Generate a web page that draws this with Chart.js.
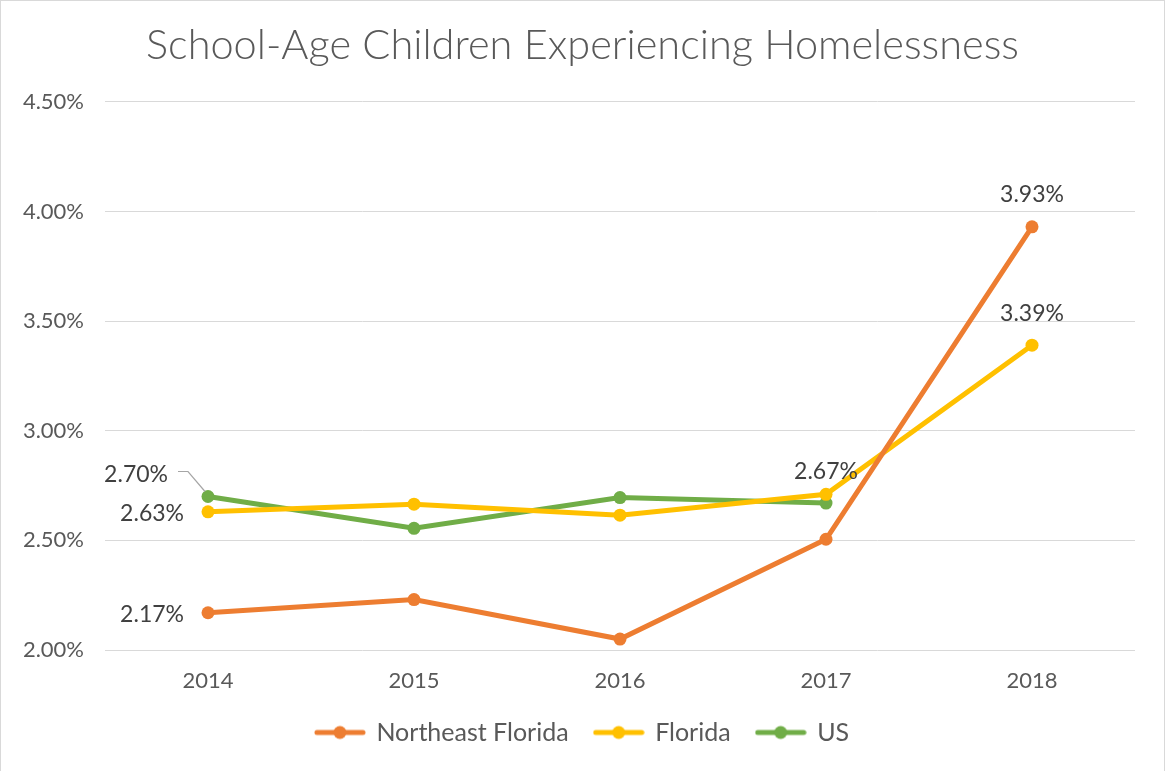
<!DOCTYPE html>
<html>
<head>
<meta charset="utf-8">
<script src="https://cdn.jsdelivr.net/npm/chart.js@4/dist/chart.umd.min.js"></script>
<style>
  html, body { margin: 0; padding: 0; background: #fff; }
  #wrap { width: 1165px; height: 771px; position: relative; box-sizing: border-box;
          border: 1px solid #d9d9d9; border-bottom: none; }
</style>
</head>
<body>
<div id="wrap"><canvas id="homelessChart"></canvas></div>
<script>
const years = ['2014', '2015', '2016', '2017', '2018'];
const neFlorida = [2.17, 2.23, 2.05, 2.505, 3.93];
const florida = [2.63, 2.665, 2.615, 2.71, 3.39];
const us = [2.70, 2.555, 2.695, 2.67, null];
const yTicks = [2.0, 2.5, 3.0, 3.5, 4.0, 4.5];

// which points carry a value label: [datasetIndex, pointIndex, side]
const labelPoints = [
    [2, 0, 'leader'],
    [1, 0, 'left'],
    [0, 0, 'left'],
    [2, 3, 'above'],
    [0, 4, 'above'],
    [1, 4, 'above']
];

const FONT = 'Lato, "Open Sans", sans-serif';

function legendIcon(color) {
    const c = document.createElement('canvas');
    c.width = 52; c.height = 16;
    const g = c.getContext('2d');
    g.strokeStyle = color;
    g.lineWidth = 5;
    g.lineCap = 'round';
    g.beginPath(); g.moveTo(3, 8); g.lineTo(49, 8); g.stroke();
    g.fillStyle = color;
    g.beginPath(); g.arc(26, 8, 6.5, 0, Math.PI * 2); g.fill();
    return c;
}

const valueLabels = {
    id: 'valueLabels',
    afterDatasetsDraw(chart) {
        const ctx = chart.ctx;
        ctx.save();
        ctx.font = '23px ' + FONT;
        ctx.fillStyle = '#404040';
        labelPoints.forEach(([di, pi, side]) => {
            const pt = chart.getDatasetMeta(di).data[pi];
            const v = chart.data.datasets[di].data[pi];
            const txt = v.toFixed(2) + '%';
            ctx.textBaseline = 'middle';
            if (side === 'left') {
                ctx.textAlign = 'right';
                ctx.fillText(txt, pt.x - 24, pt.y + 2);
            } else if (side === 'above') {
                ctx.textAlign = 'center';
                ctx.fillText(txt, pt.x, pt.y - 32);
            } else {
                ctx.textAlign = 'right';
                ctx.fillText(txt, pt.x - 40, pt.y - 22);
                ctx.strokeStyle = '#a6a6a6';
                ctx.lineWidth = 1.2;
                ctx.beginPath();
                ctx.moveTo(pt.x - 30, pt.y - 25);
                ctx.lineTo(pt.x - 20, pt.y - 25);
                ctx.lineTo(pt.x - 3, pt.y - 5);
                ctx.stroke();
            }
        });
        ctx.restore();
    }
};

function series(label, data, color) {
    return {
        label: label,
        data: data,
        borderColor: color,
        backgroundColor: color,
        borderWidth: 5,
        pointStyle: 'circle',
        pointRadius: 6.5,
        pointHoverRadius: 6.5,
        pointBorderWidth: 0,
        spanGaps: false,
        tension: 0
    };
}

document.addEventListener('DOMContentLoaded', function() {
    const ctx = document.getElementById('homelessChart');
    new Chart(ctx, {
        type: 'line',
        data: {
            labels: years,
            datasets: [
                series('Northeast Florida', neFlorida, '#ED7D31'),
                series('Florida', florida, '#FFC000'),
                series('US', us, '#70AD47')
            ]
        },
        options: {
            responsive: true,
            maintainAspectRatio: false,
            animation: false,
            layout: { padding: { left: 0, right: 0, top: 0, bottom: 16 } },
            plugins: {
                title: {
                    display: true,
                    text: 'School-Age Children Experiencing Homelessness',
                    color: '#595959',
                    font: { family: FONT, size: 41.5, weight: 300 },
                    padding: { top: 20, bottom: 31 }
                },
                legend: {
                    position: 'bottom',
                    labels: {
                        usePointStyle: true,
                        pointStyleWidth: 48,
                        color: '#595959',
                        font: { family: FONT, size: 25 },
                        padding: 26,
                        generateLabels(chart) {
                            return chart.data.datasets.map((ds, i) => ({
                                text: ds.label,
                                fontColor: '#595959',
                                pointStyle: legendIcon(ds.borderColor),
                                datasetIndex: i,
                                lineWidth: 0,
                                strokeStyle: 'transparent',
                                fillStyle: ds.borderColor
                            }));
                        }
                    }
                },
                tooltip: { enabled: false }
            },
            scales: {
                x: {
                    offset: true,
                    afterFit(scale) { scale.height = 44; },
                    grid: { display: false },
                    border: { display: false },
                    ticks: { color: '#595959', font: { family: FONT, size: 22 }, padding: 10 }
                },
                y: {
                    min: 2.0,
                    max: 4.5,
                    afterFit(scale) { scale.width = 104; },
                    afterBuildTicks(scale) { scale.ticks = yTicks.map(v => ({ value: v })); },
                    grid: { color: '#d9d9d9', lineWidth: 1, drawTicks: false },
                    border: { display: false },
                    ticks: {
                        color: '#595959',
                        font: { family: FONT, size: 22 },
                        padding: 21,
                        callback: v => v.toFixed(2) + '%'
                    }
                },
                yRight: {
                    position: 'right',
                    min: 2.0,
                    max: 4.5,
                    afterFit(scale) { scale.width = 29; },
                    grid: { display: false },
                    border: { display: false },
                    ticks: { display: false }
                }
            }
        },
        plugins: [valueLabels]
    });
});
</script>
</body>
</html>
